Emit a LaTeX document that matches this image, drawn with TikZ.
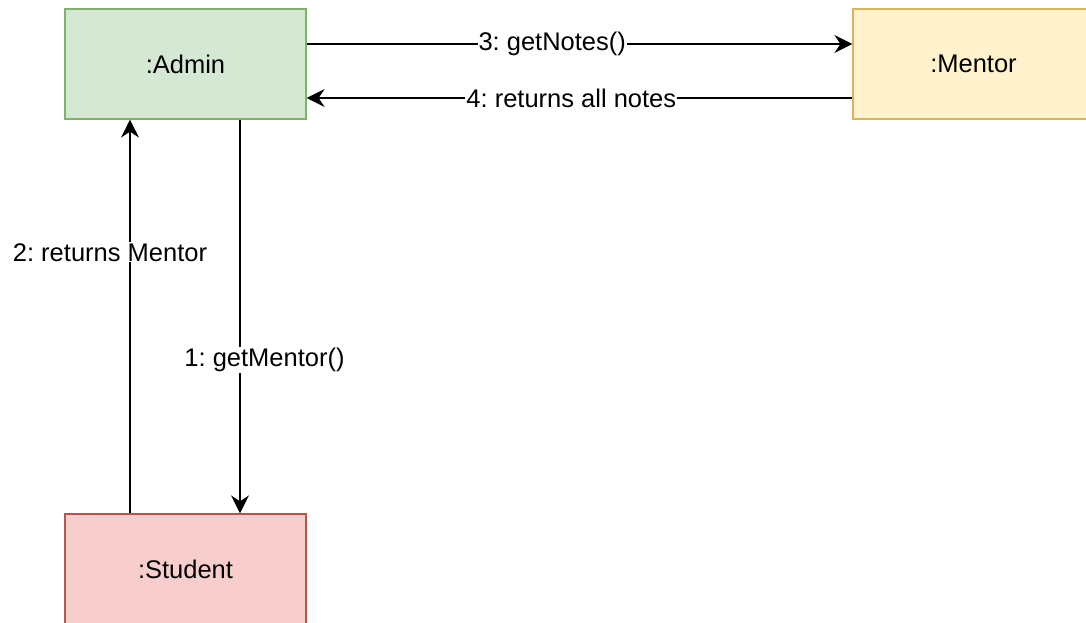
\documentclass[tikz,border=0pt]{standalone}
\usepackage{fontspec}
\setmainfont{Liberation Sans}
\usepackage{tikz}
\usetikzlibrary{arrows.meta}

\definecolor{admin_fill}{HTML}{D5E8D4}
\definecolor{admin_line}{HTML}{82B366}
\definecolor{mentor_fill}{HTML}{FFF2CC}
\definecolor{mentor_line}{HTML}{D6B656}
\definecolor{student_fill}{HTML}{F8CECC}
\definecolor{student_line}{HTML}{B85450}

\begin{document}
\frenchspacing
\begin{tikzpicture}[
    x=1pt, y=-1pt,
    every node/.style={font=\fontsize{25.5}{30}\selectfont},
    obj_box/.style={rectangle,draw,line width=1.2pt,minimum width=241pt,minimum height=110pt},
    msg/.style={line width=1.6pt,-{Stealth[length=18pt,width=18pt,inset=6pt]}},
    msg_label/.style={fill=white,inner sep=1pt}
  ]
    \useasboundingbox (0,0) rectangle (1086,622);
    \node[obj_box,fill=admin_fill,draw=admin_line] (admin) at (185.5,64) {:Admin};
    \node[obj_box,fill=mentor_fill,draw=mentor_line] (mentor) at (973.5,64) {:Mentor};
    \node[obj_box,fill=student_fill,draw=student_line] (student) at (185.5,569) {:Student};

    \draw[msg] ([xshift=54.5pt]admin.south) -- node[msg_label,pos=0.61,xshift=24.5pt] {1: getMentor()} ([xshift=54.5pt]student.north);
    \draw[msg] ([xshift=-55.5pt]student.north) -- node[msg_label,pos=0.663,xshift=-20pt] {2: returns Mentor} ([xshift=-55.5pt]admin.south);
    \draw[msg] ([yshift=20pt]admin.east) -- node[msg_label,pos=0.45] {3: getNotes()} ([yshift=20pt]mentor.west);
    \draw[msg] ([yshift=-34pt]mentor.west) -- node[msg_label,pos=0.515] {4: returns all notes} ([yshift=-34pt]admin.east);
  \end{tikzpicture}
\end{document}
